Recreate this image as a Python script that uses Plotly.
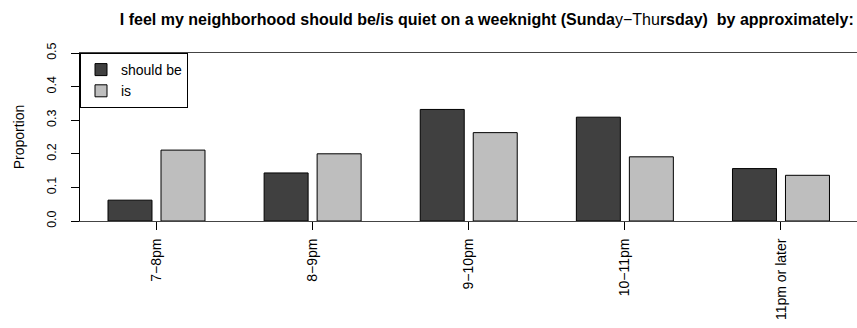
import plotly.graph_objects as go

categories = ["7−8pm", "8−9pm", "9−10pm", "10−11pm", "11pm or later"]
should_be = [0.062, 0.143, 0.332, 0.309, 0.156]
is_vals = [0.211, 0.200, 0.263, 0.191, 0.136]
y_ticks = [0.0, 0.1, 0.2, 0.3, 0.4, 0.5]
y_ticklabels = ["0.0", "0.1", "0.2", "0.3", "0.4", "0.5"]

FONT = "Liberation Sans, Arial, Helvetica, sans-serif"

fig = go.Figure()
fig.add_trace(go.Bar(x=categories, y=should_be, name="should be",
                     marker=dict(color="#404040", line=dict(color="black", width=1))))
fig.add_trace(go.Bar(x=categories, y=is_vals, name="is",
                     marker=dict(color="#bebebe", line=dict(color="black", width=1))))

fig.update_layout(
    width=857, height=328,
    margin=dict(l=80, r=0, t=53, b=107),
    paper_bgcolor="white", plot_bgcolor="white",
    font=dict(family=FONT, color="black", size=13),
    barmode="group", bargap=0.321, bargroupgap=0.17,
    title=dict(
        text="<b>I feel my neighborhood should be/is quiet on a weeknight (Sunda</b>y−Thu<b>rsday)  by approximately:</b>",
        font=dict(size=16, family=FONT, color="black"),
        xref="container", x=0.568, xanchor="center",
        yref="container", y=0.940, yanchor="middle",
    ),
    legend=dict(
        x=0, y=1, xanchor="left", yanchor="top",
        bordercolor="black", borderwidth=1, bgcolor="white",
        font=dict(size=14, family=FONT, color="black"),
        tracegroupgap=0,
    ),
    showlegend=True,
)

fig.update_xaxes(
    range=[-0.49, 4.487],
    showline=True, linecolor="#444444", linewidth=1, mirror=True,
    ticks="outside", ticklen=8, tickcolor="black", tickwidth=1,
    tickangle=-90, tickfont=dict(size=14, family=FONT, color="black"),
    ticklabelstandoff=3,
    showgrid=False, zeroline=False,
)
fig.update_yaxes(
    range=[0, 0.5],
    tickvals=y_ticks, ticktext=y_ticklabels,
    showline=True, linecolor="black", linewidth=1,
    ticks="outside", ticklen=8, tickcolor="black", tickwidth=1,
    tickangle=-90, tickfont=dict(size=12.5, family=FONT, color="black"),
    ticklabelstandoff=10,
    title=dict(text="Proportion", font=dict(size=14, family=FONT, color="black"), standoff=17),
    showgrid=False, zeroline=False,
)

fig.write_html("out.html")
